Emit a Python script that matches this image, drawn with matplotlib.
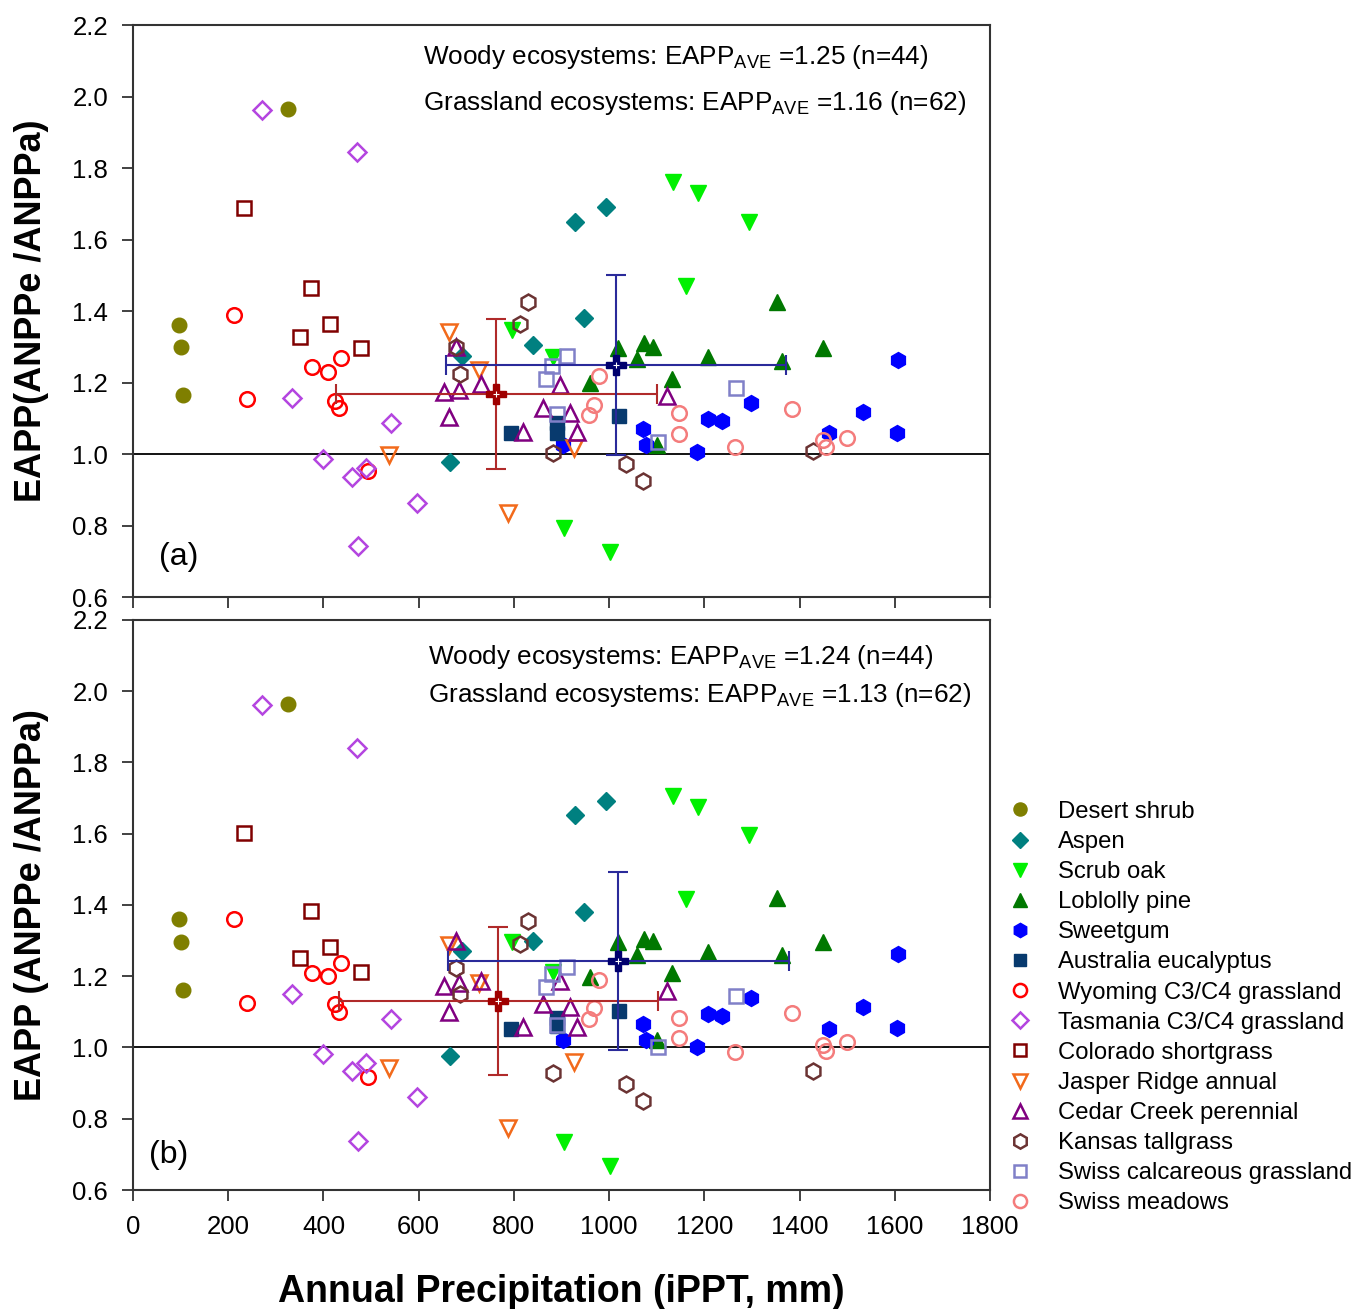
import matplotlib
matplotlib.use("Agg")
import matplotlib.pyplot as plt
from matplotlib.lines import Line2D

plt.rcParams['font.family'] = ['Liberation Sans', 'DejaVu Sans']
plt.rcParams['mathtext.fontset'] = 'custom'
plt.rcParams['mathtext.rm'] = 'Liberation Sans'

# ---- data (x = annual precipitation mm, ya = panel a, yb = panel b) ----
desert_x = [97, 101, 105, 326]
desert_ya = [1.36, 1.30, 1.165, 1.965]
desert_yb = [1.36, 1.295, 1.162, 1.964]

aspen_x = [666, 691, 840, 929, 948, 994]
aspen_ya = [0.978, 1.275, 1.305, 1.65, 1.38, 1.69]
aspen_yb = [0.976, 1.272, 1.30, 1.653, 1.38, 1.692]

scrub_x = [796, 882, 905, 1002, 1134, 1162, 1187, 1294]
scrub_ya = [1.347, 1.27, 0.793, 0.726, 1.76, 1.47, 1.73, 1.65]
scrub_yb = [1.296, 1.212, 0.735, 0.667, 1.706, 1.417, 1.675, 1.597]

lob_x = [960, 1019, 1059, 1073, 1092, 1101, 1132, 1208, 1353, 1363, 1450]
lob_ya = [1.20, 1.297, 1.265, 1.31, 1.30, 1.025, 1.21, 1.27, 1.425, 1.26, 1.297]
lob_yb = [1.198, 1.296, 1.26, 1.305, 1.30, 1.021, 1.209, 1.268, 1.42, 1.26, 1.296]

sweet_x = [903, 1071, 1078, 1184, 1208, 1237, 1298, 1462, 1533, 1605, 1607]
sweet_ya = [1.025, 1.07, 1.025, 1.006, 1.098, 1.093, 1.143, 1.06, 1.117, 1.06, 1.263]
sweet_yb = [1.02, 1.066, 1.021, 1.001, 1.094, 1.089, 1.139, 1.052, 1.114, 1.055, 1.262]

euc_x = [794, 890, 890, 1021]
euc_ya = [1.058, 1.087, 1.06, 1.107]
euc_yb = [1.052, 1.083, 1.06, 1.103]

wyo_x = [212, 239, 376, 410, 424, 433, 437, 494]
wyo_ya = [1.39, 1.154, 1.243, 1.23, 1.148, 1.128, 1.268, 0.952]
wyo_yb = [1.36, 1.125, 1.209, 1.20, 1.122, 1.10, 1.237, 0.917]

tas_x = [271, 334, 399, 460, 472, 471, 489, 542, 596]
tas_ya = [1.962, 1.157, 0.986, 0.936, 0.743, 1.845, 0.96, 1.087, 0.863]
tas_yb = [1.961, 1.15, 0.982, 0.934, 0.738, 1.841, 0.957, 1.08, 0.86]

col_x = [233, 351, 374, 414, 479]
col_ya = [1.688, 1.327, 1.465, 1.363, 1.297]
col_yb = [1.602, 1.251, 1.383, 1.282, 1.212]

jas_x = [538, 664, 727, 788, 926]
jas_ya = [0.997, 1.341, 1.235, 0.835, 1.016]
jas_yb = [0.942, 1.288, 1.18, 0.774, 0.959]

ced_x = [653, 664, 678, 685, 731, 819, 861, 897, 918, 932, 1122]
ced_ya = [1.174, 1.103, 1.30, 1.179, 1.196, 1.062, 1.128, 1.193, 1.115, 1.062, 1.162]
ced_yb = [1.173, 1.10, 1.30, 1.18, 1.187, 1.058, 1.122, 1.187, 1.114, 1.058, 1.159]

kan_x = [678, 687, 813, 829, 882, 1036, 1071, 1429]
kan_ya = [1.30, 1.224, 1.363, 1.425, 1.003, 0.972, 0.925, 1.008]
kan_yb = [1.223, 1.15, 1.29, 1.355, 0.928, 0.898, 0.85, 0.934]

calc_x = [867, 880, 890, 911, 1103, 1266]
calc_ya = [1.21, 1.246, 1.112, 1.274, 1.034, 1.185]
calc_yb = [1.17, 1.206, 1.063, 1.226, 1.0, 1.145]

mead_x = [958, 968, 979, 1147, 1147, 1265, 1385, 1450, 1456, 1500]
mead_ya = [1.109, 1.137, 1.218, 1.114, 1.056, 1.02, 1.126, 1.04, 1.02, 1.045]
mead_yb = [1.08, 1.111, 1.19, 1.083, 1.027, 0.988, 1.097, 1.007, 0.99, 1.015]

# means: [x, y, xerr, yerr]
grass_mean_a = [763, 1.168, 337, 0.211]
woody_mean_a = [1015, 1.249, 357, 0.253]
grass_mean_b = [767, 1.13, 335, 0.208]
woody_mean_b = [1019, 1.243, 358, 0.25]

labels_a = ["Woody ecosystems: EAPP$_{\\rm AVE}$ =1.25 (n=44)",
            "Grassland ecosystems: EAPP$_{\\rm AVE}$ =1.16 (n=62)"]
labels_b = ["Woody ecosystems: EAPP$_{\\rm AVE}$ =1.24 (n=44)",
            "Grassland ecosystems: EAPP$_{\\rm AVE}$ =1.13 (n=62)"]

# name, x, ya, yb, marker, color, filled, size
series = [
    ("Desert shrub", desert_x, desert_ya, desert_yb, 'o', '#7f7f00', True, 10.5),
    ("Aspen", aspen_x, aspen_ya, aspen_yb, 'D', '#008080', True, 9),
    ("Scrub oak", scrub_x, scrub_ya, scrub_yb, 'v', '#00f000', True, 11.5),
    ("Loblolly pine", lob_x, lob_ya, lob_yb, '^', '#007800', True, 11.5),
    ("Sweetgum", sweet_x, sweet_ya, sweet_yb, 'h', '#0000ff', True, 11.5),
    ("Australia eucalyptus", euc_x, euc_ya, euc_yb, 's', '#083a6e', True, 9.5),
    ("Wyoming C3/C4 grassland", wyo_x, wyo_ya, wyo_yb, 'o', '#ff0000', False, 10.5),
    ("Tasmania C3/C4 grassland", tas_x, tas_ya, tas_yb, 'D', '#b445e0', False, 9),
    ("Colorado shortgrass", col_x, col_ya, col_yb, 's', '#800000', False, 9.5),
    ("Jasper Ridge annual", jas_x, jas_ya, jas_yb, 'v', '#f26a1b', False, 11.5),
    ("Cedar Creek perennial", ced_x, ced_ya, ced_yb, '^', '#800080', False, 11.5),
    ("Kansas tallgrass", kan_x, kan_ya, kan_yb, 'h', '#6b3333', False, 11.5),
    ("Swiss calcareous grassland", calc_x, calc_ya, calc_yb, 's', '#8080c8', False, 9.5),
    ("Swiss meadows", mead_x, mead_ya, mead_yb, 'o', '#f47c7c', False, 10.5),
]

fig = plt.figure(figsize=(13.7, 13.09), dpi=100)
ax_a = fig.add_axes([0.0971, 0.5439, 0.6255, 0.4370])
ax_b = fig.add_axes([0.0971, 0.0909, 0.6255, 0.4355])


def draw_panel(ax, which, gmean, wmean, texts, tag, tagpos, txtpos):
    ax.axhline(1.0, color='black', lw=1.3, zorder=1)
    for name, x, ya, yb, mk, c, filled, ms in series:
        y = ya if which == 'a' else yb
        if filled:
            ax.plot(x, y, ls='none', marker=mk, ms=ms, mfc=c, mec=c, mew=1, zorder=3)
        else:
            ax.plot(x, y, ls='none', marker=mk, ms=ms, mfc='none', mec=c, mew=1.8, zorder=3)
    # grassland mean
    ax.errorbar(gmean[0], gmean[1], xerr=gmean[2], yerr=gmean[3], fmt='none',
                ecolor='#b02a2a', elinewidth=1.5, capsize=7, capthick=1.5, zorder=4)
    ax.plot(gmean[0], gmean[1], ls='none', marker='P', ms=15, mfc='#a00000', mec='#a00000', zorder=5)
    ax.plot(gmean[0], gmean[1], ls='none', marker='+', ms=4, mec='white', mew=0.8, zorder=6)
    # woody mean
    ax.errorbar(wmean[0], wmean[1], xerr=wmean[2], yerr=wmean[3], fmt='none',
                ecolor='#2a2a9a', elinewidth=1.5, capsize=7, capthick=1.5, zorder=4)
    ax.plot(wmean[0], wmean[1], ls='none', marker='P', ms=15, mfc='#00006e', mec='#00006e', zorder=5)
    ax.plot(wmean[0], wmean[1], ls='none', marker='+', ms=4, mec='white', mew=0.8, zorder=6)

    ax.set_xlim(0, 1800)
    ax.set_ylim(0.6, 2.2)
    ax.set_xticks(range(0, 1801, 200))
    ax.set_yticks([0.6, 0.8, 1.0, 1.2, 1.4, 1.6, 1.8, 2.0, 2.2])
    ax.set_yticklabels(['%.1f' % v for v in ax.get_yticks()])
    ax.tick_params(direction='out', length=8, width=1.3, color='#333333')
    ax.tick_params(axis='y', labelsize=18.5, pad=10)
    ax.tick_params(axis='x', labelsize=18.5, pad=10)
    for s in ax.spines.values():
        s.set_linewidth(1.5)
        s.set_color('#333333')
    ax.text(tagpos[0], tagpos[1], tag, transform=ax.transAxes, fontsize=23,
            ha='center', va='center')
    ax.text(txtpos[0], txtpos[1][0], texts[0], transform=ax.transAxes, fontsize=18.8,
            ha='left', va='center')
    ax.text(txtpos[0], txtpos[1][1], texts[1], transform=ax.transAxes, fontsize=18.8,
            ha='left', va='center')


draw_panel(ax_a, 'a', grass_mean_a, woody_mean_a, labels_a, '(a)', (0.053, 0.07), (0.338, (0.944, 0.864)))
draw_panel(ax_b, 'b', grass_mean_b, woody_mean_b, labels_b, '(b)', (0.041, 0.061), (0.344, (0.935, 0.868)))

ax_a.set_xticklabels([])

ax_a.set_ylabel("EAPP(ANPPe /ANPPa)", fontsize=26, fontweight='bold', labelpad=17)
ax_b.set_ylabel("EAPP (ANPPe /ANPPa)", fontsize=26, fontweight='bold', labelpad=17)
ax_b.set_xlabel("Annual Precipitation (iPPT, mm)", fontsize=27, fontweight='bold',
                labelpad=25)

handles = []
for name, x, ya, yb, mk, c, filled, ms in series:
    if filled:
        h = Line2D([], [], ls='none', marker=mk, ms=ms * 0.9, mfc=c, mec=c)
    else:
        h = Line2D([], [], ls='none', marker=mk, ms=ms * 0.9, mfc='none', mec=c, mew=1.8)
    handles.append(h)
fig.legend(handles, [s[0] for s in series], loc='upper left',
           bbox_to_anchor=(0.7314, 0.3882), frameon=False, fontsize=17.2,
           borderpad=0, borderaxespad=0, handlelength=1.5, handletextpad=0.85,
           labelspacing=0.34)

fig.savefig('out.png', dpi=100)
